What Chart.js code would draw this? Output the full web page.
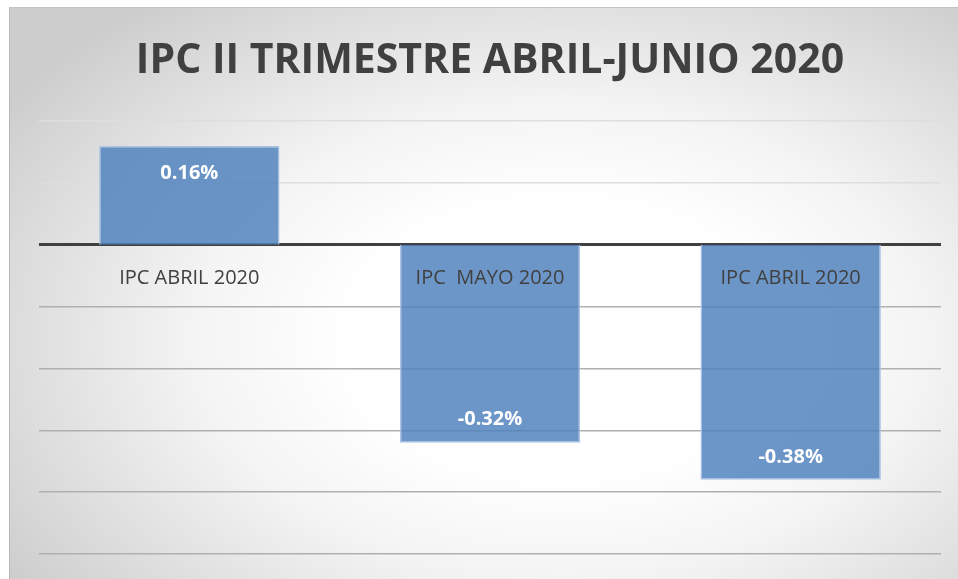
<!DOCTYPE html>
<html>
<head>
<meta charset="utf-8">
<script src="https://cdn.jsdelivr.net/npm/chart.js@4"></script>
<style>
  html, body { margin: 0; padding: 0; background: #fff; }
  #wrap {
    position: absolute; left: 9px; top: 7px; width: 949px; height: 572px;
    border-left: 1px solid #b8b8b8; border-top: 1px solid #c4c4c4;
    box-sizing: border-box;
    background: radial-gradient(ellipse 70% 75% at 58% 58%, #ffffff 32%, #f4f4f4 55%, #cdcdcd 100%);
  }
</style>
</head>
<body>
<div id="wrap"><canvas id="ipc"></canvas></div>
<script>
var categories = ['IPC ABRIL 2020', 'IPC  MAYO 2020', 'IPC ABRIL 2020'];
var values = [0.16, -0.32, -0.38];
var titleText = 'IPC II TRIMESTRE ABRIL-JUNIO 2020';

// labels drawn on the bars and under the zero line, like Excel does
var labelPlugin = {
  id: 'labels',
  afterDatasetsDraw: function (chart) {
    var ctx = chart.ctx;
    var meta = chart.getDatasetMeta(0);
    var zero = chart.scales.y.getPixelForValue(0);
    ctx.save();
    ctx.textAlign = 'center';
    ctx.textBaseline = 'middle';
    meta.data.forEach(function (bar, i) {
      ctx.fillStyle = '#404040';
      ctx.font = '20px "Open Sans"';
      ctx.fillText(categories[i], bar.x, zero + 33);
      ctx.fillStyle = '#ffffff';
      ctx.font = 'bold 20px "Open Sans"';
      var v = values[i];
      var y = v >= 0 ? bar.y + 27 : bar.y - 23;
      ctx.fillText(v.toFixed(2) + '%', bar.x, y);
    });
    ctx.restore();
  }
};

var options = {
  type: 'bar',
  data: {
    labels: categories,
    datasets: [{
      data: values,
      backgroundColor: 'rgba(79,129,189,0.83)',
      borderColor: '#a9c3e3',
      borderWidth: 1.5,
      categoryPercentage: 1,
      barPercentage: 0.6
    }]
  },
  options: {
    responsive: true,
    maintainAspectRatio: false,
    animation: false,
    layout: { padding: { left: 29, right: 17, top: 0, bottom: 25 } },
    scales: {
      x: { display: false },
      y: {
        min: -0.5,
        max: 0.2,
        ticks: { display: false, stepSize: 0.1 },
        border: { display: false },
        grid: {
          drawTicks: false,
          color: function (c) {
            var v = Math.round(c.tick.value * 10) / 10;
            if (v === 0) return '#404040';
            return v > 0 ? '#dedede' : '#b0b0b0';
          },
          lineWidth: function (c) {
            return Math.round(c.tick.value * 10) === 0 ? 3 : 1.5;
          }
        }
      }
    },
    plugins: {
      legend: { display: false },
      tooltip: { enabled: false },
      title: {
        display: true,
        text: titleText,
        color: '#404040',
        font: { family: '"Open Sans"', size: 41, weight: 'bold' },
        padding: { top: 29, bottom: 35 }
      }
    }
  },
  plugins: [labelPlugin]
};

var ctx = document.getElementById('ipc').getContext('2d');
new Chart(ctx, options);
</script>
</body>
</html>
